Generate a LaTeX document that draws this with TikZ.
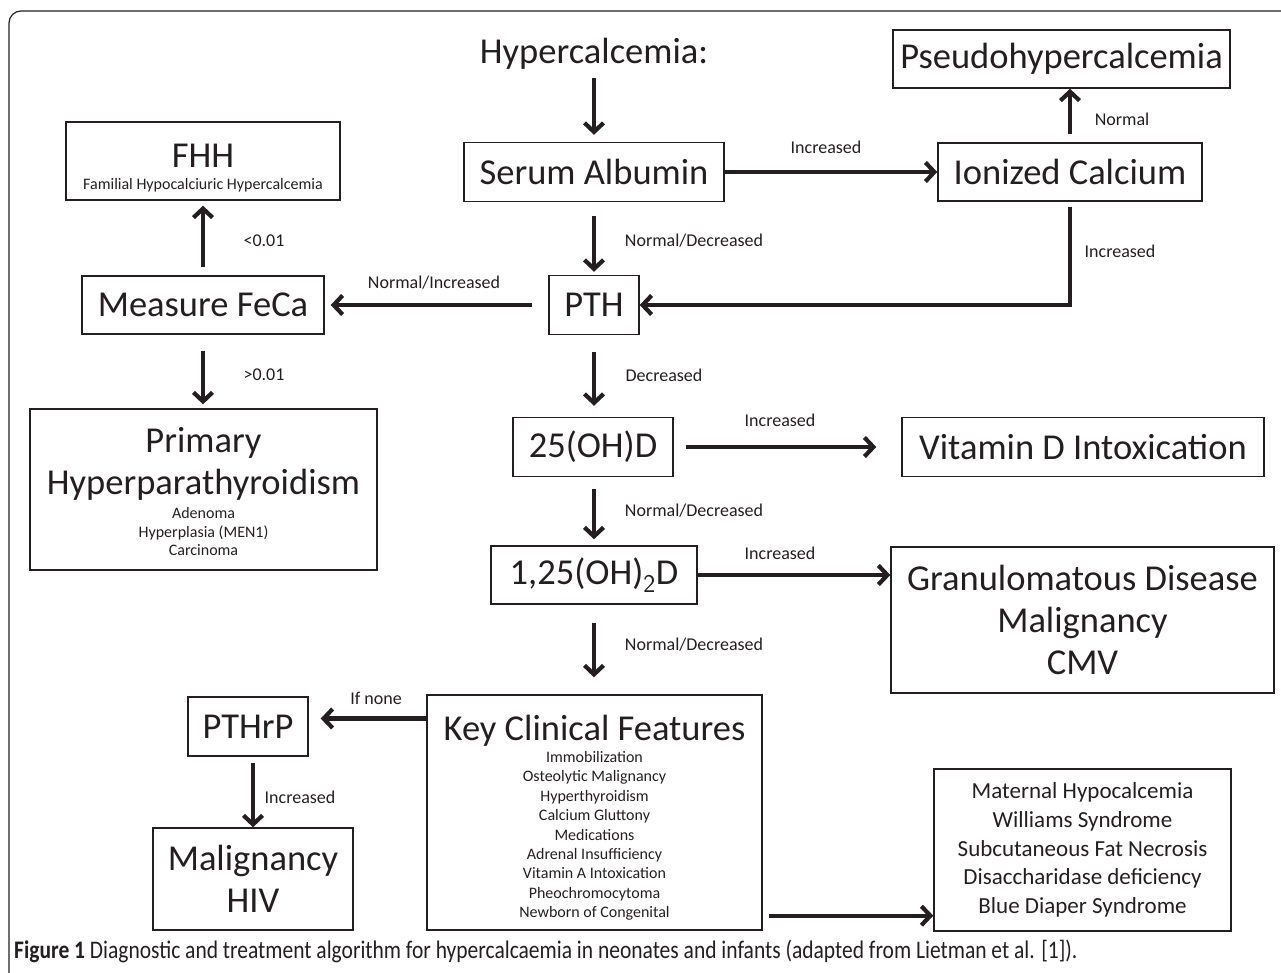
\documentclass[tikz,border=0pt]{standalone}
\usepackage{fontspec}
\setmainfont{Carlito}
\newfontfamily\capfont[FakeStretch=0.85]{Carlito}
\usetikzlibrary{arrows.meta}
\definecolor{ink}{HTML}{231F20}
\newcommand\fixsp{\spaceskip=\fontdimen2\font\relax\xspaceskip=\fontdimen2\font\relax}
\newcommand\bigf{\fontsize{36.5}{42}\selectfont\fixsp}
\newcommand\smallf{\fontsize{16}{19.4}\selectfont\fixsp}
\newcommand\smallpf{\fontsize{16}{18.5}\selectfont\fixsp}
\begin{document}
\begin{tikzpicture}[x=1pt,y=-1pt,
  box/.style={draw=ink, line width=1.4pt, text=ink, align=center, inner sep=0pt, font=\bigf},
  big/.style={text=ink, inner sep=0pt, font=\bigf},
  arr/.style={draw=ink, line width=4.2pt, -{Straight Barb[length=9pt,width=19pt]}},
  lbl/.style={text=ink, inner sep=0pt, font=\fontsize{18}{21}\selectfont},
]
\useasboundingbox (0,0) rectangle (1281,973);
\draw[ink, line width=1.2pt, rounded corners=12pt] (9,11) rectangle (1310,1000);

\node[big] (hyp) at (594,54) {Hypercalcemia:};
\node[box, minimum width=337pt, minimum height=58pt] (pseudo) at (1061.5,59) {Pseudohypercalcemia};
\node[box, minimum width=260pt, minimum height=59pt] (serum) at (594,172) {Serum Albumin};
\node[box, minimum width=264pt, minimum height=58pt] (ionized) at (1070,172) {Ionized Calcium};
\node[box, minimum width=274pt, minimum height=78pt, text width=268pt] (fhh) at (203,161) {{\bigf FHH\par}\vspace{2pt}{\smallf Familial Hypocalciuric Hypercalcemia\par}\vspace{-14pt}};
\node[box, minimum width=242pt, minimum height=58pt] (feca) at (203,305) {Measure FeCa};
\node[box, minimum width=90pt, minimum height=59pt] (pth) at (594,305) {PTH};
\node[box, minimum width=347pt, minimum height=161pt, text width=340pt] (primary) at (203.5,489.5) {{\bigf Primary\\Hyperparathyroidism\par}\vspace{6pt}{\smallpf Adenoma\\Hyperplasia (MEN1)\\Carcinoma\par}\vspace{-4pt}};
\node[box, minimum width=160pt, minimum height=59pt] (d25) at (593,447) {25(OH)D};
\node[box, minimum width=362pt, minimum height=59pt] (vitd) at (1083,447) {Vitamin D Intoxication};
\node[box, minimum width=206pt, minimum height=58pt] (d125) at (594,575) {1,25(OH)$_{\mathsf{2}}$D};
\node[box, minimum width=383pt, minimum height=146pt] (gran) at (1082.5,620) {Granulomatous Disease\\Malignancy\\CMV};
\node[box, minimum width=120pt, minimum height=59pt] (pthrp) at (248,726.5) {PTHrP};
\node[box, minimum width=200pt, minimum height=102pt] (malig) at (253,879) {Malignancy\\HIV};
\node[box, minimum width=335pt, minimum height=235pt, text width=330pt] (key) at (594.5,812.5) {{\bigf Key Clinical Features\par}\vspace{3pt}{\smallf Immobilization\\Osteolytic Malignancy\\Hyperthyroidism\\Calcium Gluttony\\Medications\\Adrenal Insufficiency\\Vitamin A Intoxication\\Pheochromocytoma\\Newborn of Congenital\par}\vspace{-10pt}};
\node[box, minimum width=297pt, minimum height=162pt, font=\fontsize{23}{28.7}\selectfont] (maternal) at (1082.5,850) {Maternal Hypocalcemia\\Williams Syndrome\\Subcutaneous Fat Necrosis\\Disaccharidase deficiency\\Blue Diaper Syndrome};

\draw[arr, shorten <=8pt, shorten >=7pt] (hyp.south) -- (serum.north);
\draw[arr] (serum.east) -- (ionized.west);
\draw[arr, shorten <=8pt] (ionized.north) -- (ionized.north |- pseudo.south);
\draw[arr, shorten <=14pt, shorten >=3pt] (serum.south) -- (pth.north);
\draw[arr, shorten <=5pt] (ionized.south) |- (pth.east);
\draw[arr, shorten <=16pt, shorten >=6pt] (pth.west) -- (feca.east);
\draw[arr, shorten <=8pt, shorten >=5pt] (feca.north) -- (fhh.south);
\draw[arr, shorten <=16pt, shorten >=4pt] (feca.south) -- (feca.south |- primary.north);
\draw[arr, shorten <=17pt, shorten >=11pt] (pth.south) -- (pth.south |- d25.north);
\draw[arr, shorten <=12pt, shorten >=25pt] (d25.east) -- (vitd.west);
\draw[arr, shorten <=12pt, shorten >=6pt] (d25.south -| pth.south) -- (d125.north);
\draw[arr] (d125.east) -- (d125.east -| gran.west);
\draw[arr, shorten <=18pt, shorten >=17pt] (d125.south) -- (d125.south |- key.north);
\draw[arr, shorten >=12pt] ([yshift=8pt]key.west |- pthrp.east) -- ([yshift=8pt]pthrp.east);
\draw[arr, shorten <=6pt] (pthrp.south -| malig.north) -- (malig.north);
\draw[arr, shorten <=6pt] ([yshift=15pt]key.south east) -- ([yshift=15pt]key.south east -| maternal.west);

\node[lbl] (l1) at (826,147) {Increased};
\node[lbl] (l2) at (1122,119) {Normal};
\node[lbl] (l3) at (694,241) {Normal/Decreased};
\node[lbl] (l4) at (1120,251) {Increased};
\node[lbl] (l5) at (434,283) {Normal/Increased};
\node[lbl] (l6) at (264,241) {<0.01};
\node[lbl] (l7) at (264,375) {>0.01};
\node[lbl] (l8) at (664,375) {Decreased};
\node[lbl] (l9) at (780,420) {Increased};
\node[lbl] (l10) at (694,511) {Normal/Decreased};
\node[lbl] (l11) at (780,553) {Increased};
\node[lbl] (l12) at (694,645) {Normal/Decreased};
\node[lbl] (l13) at (376,698) {If none};
\node[lbl] (l14) at (300,797) {Increased};

\node[anchor=base west, text=ink, inner sep=0pt] (cap) at (14,958) {\capfont\fontsize{25.3}{29}\selectfont\textbf{Figure 1} Diagnostic and treatment algorithm for hypercalcaemia in neonates and infants (adapted from Lietman et al. [1]).};
\end{tikzpicture}
\end{document}
